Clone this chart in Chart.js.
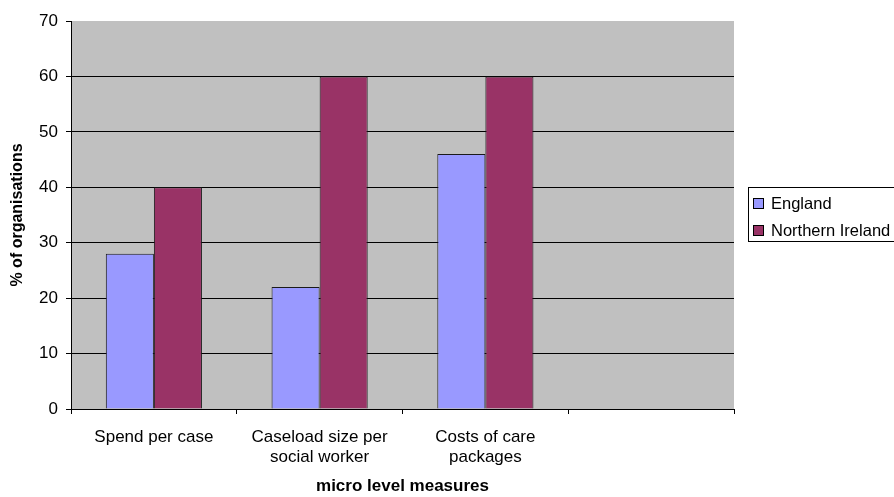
<!DOCTYPE html>
<html>
<head>
<meta charset="utf-8">
<script src="https://cdn.jsdelivr.net/npm/chart.js@4/dist/chart.umd.min.js"></script>
<style>
  html, body { margin: 0; padding: 0; background: #fff; }
  #wrap { width: 894px; height: 497px; }
</style>
</head>
<body>
<div id="wrap"><canvas id="chart" width="894" height="497"></canvas></div>
<script>
// Categories (the fourth slot is an empty group)
const categories = [
  ['Spend per case'],
  ['Caseload size per', 'social worker'],
  ['Costs of care', 'packages'],
  ''
];
const seriesNames = ['England', 'Northern Ireland'];
const englandValues = [28, 22, 46, null];
const northernIrelandValues = [40, 60, 60, null];
const seriesColors = ['#9999FF', '#993366'];
const yMin = 0, yMax = 70, yStep = 10;

const FONT = '"Liberation Sans", Arial, sans-serif';

// Grey plot area behind the bars
const plotBackground = {
  id: 'plotBackground',
  beforeDraw(chart) {
    const { ctx, chartArea: a } = chart;
    ctx.save();
    ctx.fillStyle = '#C0C0C0';
    ctx.fillRect(a.left, a.top, a.right - a.left, a.bottom - a.top);
    ctx.restore();
  }
};

// Boxed legend to the right of the plot
const boxedLegend = {
  id: 'boxedLegend',
  afterDraw(chart) {
    const { ctx } = chart;
    const x0 = 748, y0 = 187, w = 160, h = 54;
    ctx.save();
    ctx.fillStyle = '#fff';
    ctx.fillRect(x0, y0, w, h);
    ctx.strokeStyle = '#000';
    ctx.lineWidth = 1;
    ctx.strokeRect(x0 + 0.5, y0 + 0.5, w, h);
    ctx.font = '16.5px ' + FONT;
    ctx.textBaseline = 'alphabetic';
    ctx.textAlign = 'left';
    chart.data.datasets.forEach((ds, i) => {
      const sy = 198 + i * 27;
      ctx.fillStyle = ds.backgroundColor;
      ctx.fillRect(753, sy, 11, 11);
      ctx.strokeStyle = '#000';
      ctx.strokeRect(753.5, sy + 0.5, 10, 10);
      ctx.fillStyle = '#000';
      ctx.fillText(ds.label, 771, sy + 10.5);
    });
    ctx.restore();
  }
};

new Chart(document.getElementById('chart'), {
  type: 'bar',
  data: {
    labels: categories,
    datasets: [
      {
        label: seriesNames[0],
        data: englandValues,
        backgroundColor: seriesColors[0],
        borderColor: '#1a1a1a',
        borderWidth: 1,
        categoryPercentage: 0.58,
        barPercentage: 1.0
      },
      {
        label: seriesNames[1],
        data: northernIrelandValues,
        backgroundColor: seriesColors[1],
        borderColor: '#1a1a1a',
        borderWidth: 1,
        categoryPercentage: 0.58,
        barPercentage: 1.0
      }
    ]
  },
  options: {
    responsive: false,
    animation: false,
    layout: { padding: { top: 21, right: 160, left: 0, bottom: 0 } },
    plugins: {
      legend: { display: false },
      tooltip: { enabled: false }
    },
    scales: {
      x: {
        offset: true,
        afterFit(scale) { scale.height = 88; },
        grid: {
          display: true,
          drawOnChartArea: false,
          offset: true,
          tickLength: 5,
          tickColor: '#000',
          color: '#000'
        },
        border: { display: true, color: '#000', width: 1 },
        ticks: {
          color: '#000',
          font: { family: FONT, size: 17, lineHeight: 1.18 },
          padding: 13,
          maxRotation: 0,
          autoSkip: false
        },
        title: {
          display: true,
          text: 'micro level measures',
          color: '#000',
          font: { family: FONT, size: 17, weight: 'bold' },
          padding: { top: 0, bottom: 0 }
        }
      },
      y: {
        min: yMin,
        max: yMax,
        afterFit(scale) { scale.width = 71; },
        grid: {
          color: (c) => (c.tick && c.tick.value === yMax) ? 'rgba(0,0,0,0)' : '#000',
          tickColor: '#000',
          tickLength: 5,
          lineWidth: 1
        },
        border: { display: true, color: '#000', width: 1 },
        ticks: {
          stepSize: yStep,
          color: '#000',
          font: { family: FONT, size: 17 },
          padding: 8
        },
        title: {
          display: true,
          text: '% of organisations',
          color: '#000',
          font: { family: FONT, size: 16, weight: 'bold' },
          padding: { top: 8, bottom: 0 }
        }
      }
    }
  },
  plugins: [plotBackground, boxedLegend]
});
</script>
</body>
</html>
